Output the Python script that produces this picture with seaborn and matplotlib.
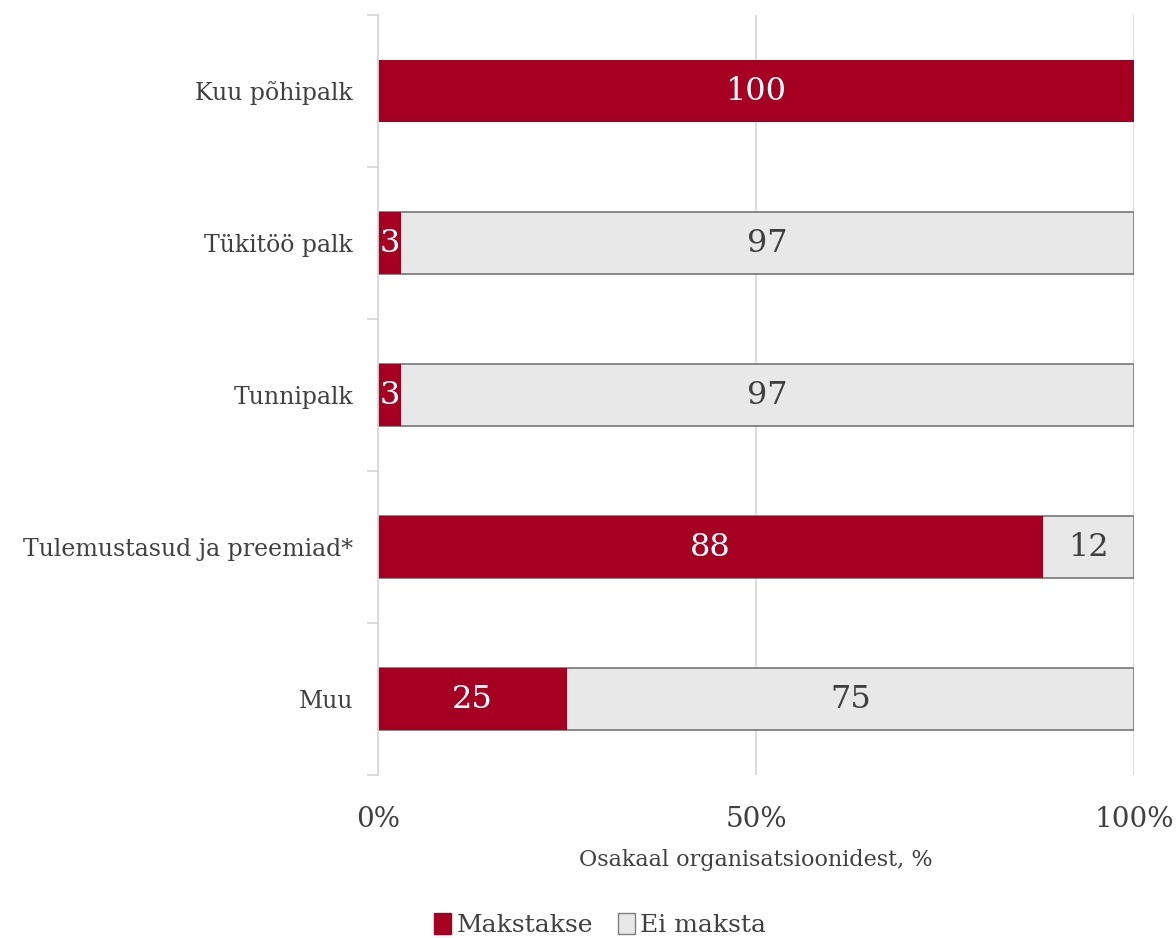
import matplotlib
matplotlib.use("Agg")
import matplotlib.pyplot as plt
import seaborn as sns
import numpy as np
import pandas as pd
from matplotlib.patches import Patch

categories = ["Kuu põhipalk", "Tükitöö palk", "Tunnipalk", "Tulemustasud ja preemiad*", "Muu"]
makstakse = [100, 3, 3, 88, 25]
ei_maksta = [0, 97, 97, 12, 75]
series_names = ["Makstakse", "Ei maksta"]
xticks = [0, 50, 100]
xtick_labels = ["0%", "50%", "100%"]
xlabel = "Osakaal organisatsioonidest, %"

RED = "#A50021"
GRAY = "#E8E8E8"
EDGE = "#7F7F7F"
TXT = "#404040"
GRID = "#D9D9D9"

sns.set_theme(style="white")
plt.rcParams["font.family"] = ["DejaVu Serif"]

df = pd.DataFrame({"cat": categories, "mak": makstakse, "ei": ei_maksta})
df["total"] = df["mak"] + df["ei"]

fig = plt.figure(figsize=(11.76, 9.38), dpi=100)
ax = fig.add_axes([378/1176, 1-775/938, (1134-378)/1176, (775-15)/938])

sns.barplot(data=df, y="cat", x="total", color=GRAY, edgecolor=EDGE, linewidth=1.3,
            width=0.41, ax=ax, saturation=1, orient="h")
for p, v in zip(ax.containers[0], df["ei"]):
    if v == 0:
        p.set_visible(False)
sns.barplot(data=df, y="cat", x="mak", color=RED, edgecolor=RED, linewidth=0,
            width=0.41, ax=ax, saturation=1, orient="h")

for i, (m, e) in enumerate(zip(df["mak"], df["ei"])):
    if m > 0:
        ax.text(m / 2, i, f"{m}", ha="center", va="center", color="white", fontsize=23)
    if e > 0:
        ax.text(m + e / 2, i, f"{e}", ha="center", va="center", color=TXT, fontsize=23)

ax.set_xlim(0, 100)
ax.set_ylim(4.5, -0.5)
ax.set_xticks(xticks)
ax.set_xticklabels(xtick_labels)
ax.xaxis.grid(True, color=GRID, linewidth=1.3)
ax.set_axisbelow(True)
ax.set_xlabel(xlabel, fontsize=16, color=TXT, labelpad=12)
ax.set_ylabel("")
ax.tick_params(axis="x", length=0, labelsize=20, labelcolor=TXT, pad=22)
ax.tick_params(axis="y", which="major", length=0, labelsize=17, labelcolor=TXT, pad=18)
ax.set_yticks(np.arange(-0.5, 5.0, 1.0), minor=True)
ax.tick_params(axis="y", which="minor", length=8, color=GRID, width=1.3, left=True)
for s in ["top", "right", "bottom"]:
    ax.spines[s].set_visible(False)
ax.spines["left"].set_color(GRID)
ax.spines["left"].set_linewidth(1.3)
ax.grid(False, axis="y")

handles = [Patch(facecolor=RED, edgecolor=RED), Patch(facecolor=GRAY, edgecolor=EDGE)]
fig.legend(handles, series_names, loc="center", bbox_to_anchor=(600/1176, 1-925/938),
           ncol=2, frameon=False, fontsize=18, handlelength=0.7, handleheight=0.9,
           handletextpad=0.2, columnspacing=1.0, labelcolor=TXT)

fig.savefig("out.png", dpi=100)
